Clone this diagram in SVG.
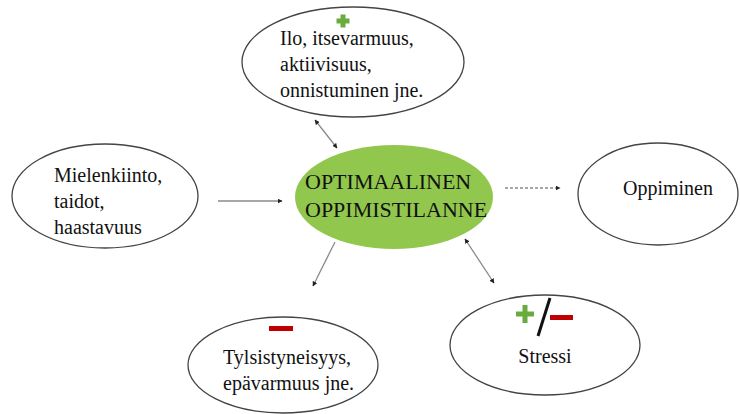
<svg xmlns="http://www.w3.org/2000/svg" width="740" height="414" viewBox="0 0 740 414">
<defs>
<marker id="ah" viewBox="0 0 10 10" refX="9" refY="5" markerWidth="5" markerHeight="5" orient="auto-start-reverse" markerUnits="userSpaceOnUse">
<path d="M0,0 L10,5 L0,10 z" fill="#222"/>
</marker>
<style>
.n{fill:#fff;stroke:#444;stroke-width:1.3}
.t{font-family:"Liberation Serif","Times New Roman",serif;font-size:20px;fill:#111}
.c{stroke:#8a8a8a;stroke-width:1.3;fill:none}
</style>
</defs>
<rect width="740" height="414" fill="#fff"/>
<g id="connectors">
<line class="c" x1="315" y1="120" x2="337" y2="148" marker-start="url(#ah)" marker-end="url(#ah)"/>
<line class="c" x1="218" y1="201" x2="282" y2="201" marker-end="url(#ah)"/>
<line class="c" x1="505" y1="188" x2="560" y2="188" stroke-dasharray="3,2" marker-end="url(#ah)"/>
<line class="c" x1="335" y1="242" x2="313" y2="286" marker-end="url(#ah)"/>
<line class="c" x1="465" y1="239" x2="494" y2="283" marker-start="url(#ah)" marker-end="url(#ah)"/>
</g>
<g id="top">
<ellipse class="n" cx="353" cy="62" rx="111" ry="55"/>
<path d="M336.5,21h13M343,14.5v13" stroke="#6aab3f" stroke-width="5"/>
<text class="t" x="280" y="45">Ilo, itsevarmuus,</text>
<text class="t" x="280" y="71">aktiivisuus,</text>
<text class="t" x="280" y="97">onnistuminen jne.</text>
</g>
<g id="center">
<ellipse cx="394" cy="197" rx="99" ry="52" fill="#92c74e"/>
<text class="t" x="305" y="189" style="font-size:22px">OPTIMAALINEN</text>
<text class="t" x="305" y="217" style="font-size:22px">OPPIMISTILANNE</text>
</g>
<g id="left">
<ellipse class="n" cx="105" cy="196" rx="93" ry="52"/>
<text class="t" x="54" y="182">Mielenkiinto,</text>
<text class="t" x="54" y="208">taidot,</text>
<text class="t" x="54" y="234">haastavuus</text>
</g>
<g id="right">
<ellipse class="n" cx="658" cy="194" rx="80" ry="51"/>
<text class="t" x="668" y="195" text-anchor="middle">Oppiminen</text>
</g>
<g id="bottomleft">
<ellipse class="n" cx="283" cy="365" rx="95" ry="48"/>
<rect x="269" y="326" width="24" height="5" fill="#c00000"/>
<text class="t" x="223" y="364">Tylsistyneisyys,</text>
<text class="t" x="223" y="390">epävarmuus jne.</text>
</g>
<g id="stressi">
<ellipse class="n" cx="545" cy="345" rx="95" ry="50"/>
<path d="M516,314h18M525,305v18" stroke="#6aab3f" stroke-width="5"/>
<line x1="550" y1="298" x2="538" y2="336" stroke="#111" stroke-width="3"/>
<rect x="550" y="315" width="23" height="5" fill="#c00000"/>
<text class="t" x="545" y="363" text-anchor="middle">Stressi</text>
</g>
</svg>
